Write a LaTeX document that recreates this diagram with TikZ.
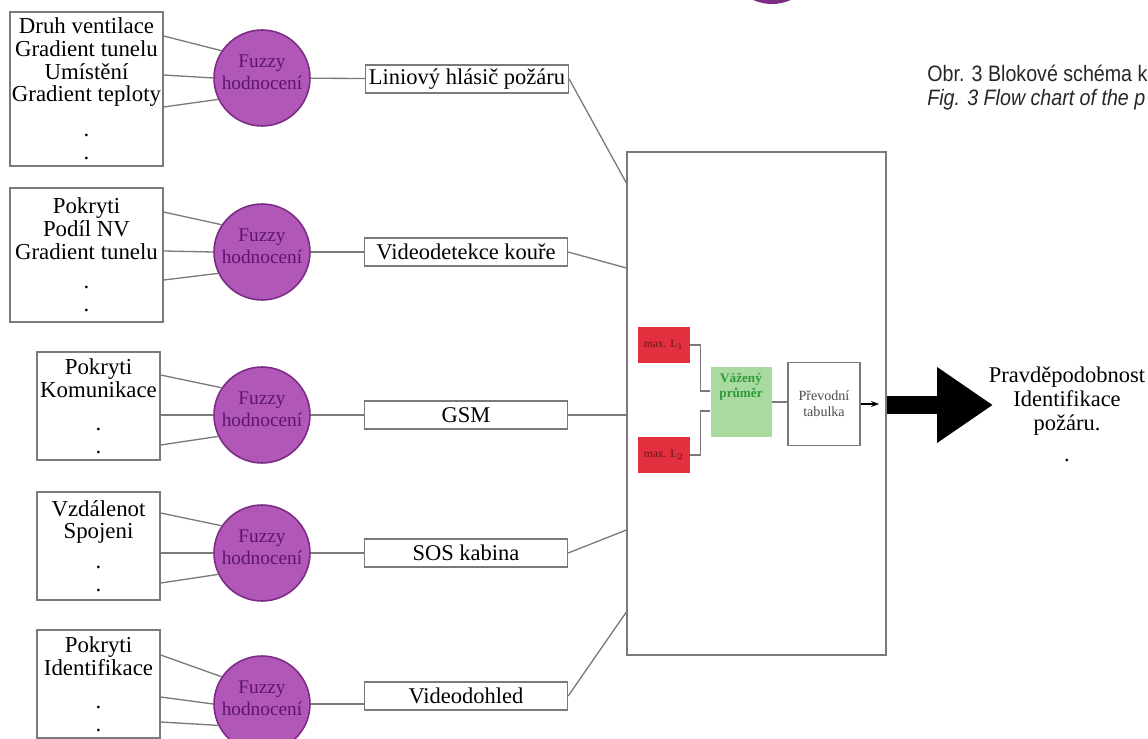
\documentclass[tikz,border=0pt]{standalone}
\usepackage{fontspec}
\setmainfont{Liberation Serif}
\newfontfamily\capfont[FakeStretch=0.88]{Liberation Sans}
\usepackage{xcolor}
\usepackage{tikz}
\usetikzlibrary{arrows.meta}

\definecolor{wiregray}{HTML}{7A7A7A}
\definecolor{fuzzyfill}{HTML}{B157B8}
\definecolor{fuzzyline}{HTML}{7D2C86}
\definecolor{fuzzytext}{HTML}{5E1470}
\definecolor{maxred}{HTML}{E2303E}
\definecolor{avggreen}{HTML}{A9DA9F}
\definecolor{avgtext}{HTML}{2F9A3A}

\begin{document}
\begin{tikzpicture}[x=0.02cm,y=-0.02cm,
  wire/.style={draw=wiregray,line width=0.75pt},
  inbox/.style={rectangle,draw=wiregray,line width=0.75pt,align=center,
    inner xsep=0pt,font=\fontsize{13}{12.9}\selectfont},
  fuzzy/.style={circle,draw=fuzzyline,line width=0.9pt,fill=fuzzyfill,
    minimum size=1.92cm,inner sep=0pt,align=center,text=fuzzytext,
    font=\fontsize{11}{12.5}\selectfont},
  sensor/.style={rectangle,draw=wiregray,line width=0.75pt,
    minimum width=4.06cm,minimum height=0.56cm,inner sep=0pt,
    font=\fontsize{12.8}{14}\selectfont}]
\useasboundingbox (0,0) rectangle (1148,739);
\clip (0,0) rectangle (1148,739);
%\draw[help lines] (0,0) grid (1148,739);
\fill[fuzzyline] (772,-42) circle (46);
\path (0,0)
(86.5,89) node(in1) [inbox,minimum width=3.06cm,minimum height=3.08cm]
  {Druh ventilace\\Gradient tunelu\\Umístění\\Gradient teploty\\[7pt].\\.}
(86.5,255) node(in2) [inbox,minimum width=3.06cm,minimum height=2.68cm]
  {Pokryti\\Podíl NV\\Gradient tunelu\\[4pt].\\.}
(98.5,406) node(in3) [inbox,minimum width=2.46cm,minimum height=2.16cm]
  {Pokryti\\Komunikace\\[6pt].\\.}
(98.5,546) node(in4) [inbox,minimum width=2.46cm,minimum height=2.16cm]
  {Vzdálenot\\Spojeni\\[4pt].\\.}
(98.5,684) node(in5) [inbox,minimum width=2.46cm,minimum height=2.16cm]
  {Pokryti\\Identifikace\\[6pt].\\.};
\path (0,0)
(262,78) node(fz1) [fuzzy] {Fuzzy\\hodnocení\\[-5.7pt]\mbox{}}
(262,252) node(fz2) [fuzzy] {Fuzzy\\hodnocení\\[-5.7pt]\mbox{}}
(262,415) node(fz3) [fuzzy] {Fuzzy\\hodnocení\\[-5.7pt]\mbox{}}
(262,553) node(fz4) [fuzzy] {Fuzzy\\hodnocení\\[-5.7pt]\mbox{}}
(262,704) node(fz5) [fuzzy] {Fuzzy\\hodnocení\\[-5.7pt]\mbox{}};
\path (0,0)
(467,79) node(lhp) [sensor] {Liniový hlásič požáru}
(466,252) node(vdk) [sensor] {Videodetekce kouře}
(466,415) node(gsm) [sensor] {GSM}
(466,553) node(sos) [sensor] {SOS kabina}
(466,696) node(vdh) [sensor] {Videodohled};
\path (756.5,403.5) node(big) [rectangle,draw=wiregray,line width=0.75pt,
  minimum width=5.18cm,minimum height=10.06cm] {};
\path (0,0)
(664,345) node(mx1) [rectangle,fill=maxred,minimum width=0.96cm,minimum height=0.72cm,
  text=maxred!45!black,font=\fontsize{6.5}{7}\selectfont] {max. L$_1$}
(664,455) node(mx2) [rectangle,fill=maxred,minimum width=0.96cm,minimum height=0.72cm,
  text=maxred!45!black,font=\fontsize{6.5}{7}\selectfont] {max. L$_2$}
(741,402) node(avg) [rectangle,fill=avggreen,minimum width=1.22cm,minimum height=1.4cm,
  align=center,text=avgtext,font=\bfseries\fontsize{7.5}{8.5}\selectfont]
  {Vážený\\průměr\\[10pt]\mbox{}}
(824,404) node(tab) [rectangle,draw=wiregray,line width=0.75pt,minimum width=1.44cm,
  minimum height=1.66cm,align=center,text=black!70,font=\fontsize{8}{9}\selectfont]
  {Převodní\\tabulka};
\path (1067,414) node(res) [align=center,font=\fontsize{12.8}{13.6}\selectfont]
  {Pravděpodobnost\\Identifikace\\požáru.\\[4pt].};
\path (927,82) node(cap1) [anchor=base west,inner sep=0pt,text=black!85,
  font=\capfont\fontsize{12.7}{14}\selectfont] {Obr. 3 Blokové schéma k}
(927,106) node(cap2) [anchor=base west,inner sep=0pt,text=black!85,
  font=\capfont\itshape\fontsize{12.7}{14}\selectfont] {Fig. 3 Flow chart of the p};
\coordinate (sm) at (879,404);
\coordinate (tip) at (993,405);
% inputs to fuzzy
\draw[wire] (in1.east |- 0,36) -- (fz1.146);
\draw[wire] (in1.east |- 0,75) -- (fz1.west);
\draw[wire] (in1.east |- 0,107) -- (fz1.206);
\draw[wire] (in2.east |- 0,212) -- (fz2.146);
\draw[wire] (in2.east |- 0,251) -- (fz2.west);
\draw[wire] (in2.east |- 0,280) -- (fz2.206);
\draw[wire] (in3.east |- 0,375) -- (fz3.146);
\draw[wire] (in3.east |- 0,415) -- (fz3.west);
\draw[wire] (in3.east |- 0,445) -- (fz3.206);
\draw[wire] (in4.east |- 0,513) -- (fz4.146);
\draw[wire] (in4.east |- 0,553) -- (fz4.west);
\draw[wire] (in4.east |- 0,583) -- (fz4.206);
\draw[wire] (in5.east |- 0,655) -- (fz5.146);
\draw[wire] (in5.east |- 0,697) -- (fz5.west);
\draw[wire] (in5.east |- 0,722) -- (fz5.206);
% fuzzy to sensors
\draw[wire] (fz1) -- (lhp);
\draw[wire] (fz2) -- (vdk);
\draw[wire] (fz3) -- (gsm);
\draw[wire] (fz4) -- (sos);
\draw[wire] (fz5.east) -- (fz5.east -| vdh.west);
% sensors to block
\draw[wire] (lhp.east) -- (big.west |- 0,183);
\draw[wire] (vdk.east) -- (big.west |- 0,268);
\draw[wire] (gsm) -- (big.west |- gsm);
\draw[wire] (sos.east) -- (big.west |- 0,530);
\draw[wire] (vdh.east) -- (big.west |- 0,612);
% inside
\draw[wire] (mx1.east) -- ++(10,0) |- (avg.west |- 0,391);
\draw[wire] (mx2.east) -- ++(10,0) |- (avg.west |- 0,411);
\draw[wire] (avg.east) -- (tab.west |- avg.east);
\draw[wire,-{Stealth[length=0.16cm,width=0.12cm]},draw=black] (tab.east |- sm) -- (sm);
\draw[line width=0.36cm,-{Triangle[length=1.12cm,width=1.44cm]}] (big.east |- tip) -- (tip);
\end{tikzpicture}
\end{document}
